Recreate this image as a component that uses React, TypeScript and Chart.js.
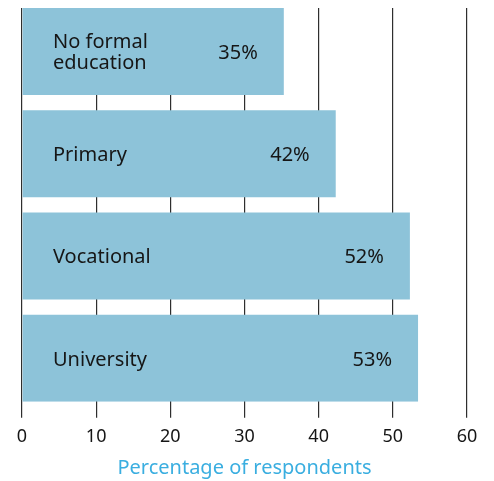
import React, { useEffect, useRef } from "react";
import { Chart, registerables } from "chart.js";

Chart.register(...registerables);

const categories: string[][] = [["No formal", "education"], ["Primary"], ["Vocational"], ["University"]];
const values: number[] = [35.3, 42.3, 52.3, 53.4];
const valueLabels: string[] = ["35%", "42%", "52%", "53%"];
const xTicks: number[] = [0, 10, 20, 30, 40, 50, 60];
const axisTitle = "Percentage of respondents";

const FONT = "'Noto Sans', 'Open Sans', sans-serif";

const labelPlugin = {
  id: "barLabels",
  afterDatasetsDraw(chart: any) {
    const ctx = chart.ctx;
    const meta = chart.getDatasetMeta(0);
    const area = chart.chartArea;
    ctx.save();
    ctx.fillStyle = "#161616";
    ctx.font = `20px ${FONT}`;
    ctx.textBaseline = "middle";
    meta.data.forEach((bar: any, i: number) => {
      const lines = categories[i];
      const lh = 21;
      const cy = bar.y + 1.5;
      ctx.textAlign = "left";
      lines.forEach((ln, j) => {
        const y = cy + (j - (lines.length - 1) / 2) * lh;
        ctx.fillText(ln, area.left + 31, y);
      });
      ctx.textAlign = "right";
      ctx.fillText(valueLabels[i], bar.x - 26, cy);
    });
    ctx.restore();
  },
};

export default function App() {
  const ref = useRef<HTMLCanvasElement | null>(null);
  useEffect(() => {
    document.body.style.margin = "0";
    const data = values.map((v, i) => ({ x: v, y: i }));
    const chart = new Chart(ref.current as HTMLCanvasElement, {
      type: "bar",
      data: {
        datasets: [
          {
            data: data as any,
            backgroundColor: "#8dc3d9",
            borderWidth: 0,
            barPercentage: 0.85,
            categoryPercentage: 1,
          },
        ],
      },
      options: {
        indexAxis: "y",
        animation: false,
        responsive: false,
        maintainAspectRatio: false,
        layout: { padding: { top: 8, left: 22, right: 27, bottom: 0 } },
        plugins: { legend: { display: false }, tooltip: { enabled: false } },
        scales: {
          y: {
            type: "linear",
            reverse: true,
            offset: false,
            bounds: "data",
            min: -0.425,
            max: categories.length - 1 + 0.425,
            afterBuildTicks: (axis: any) => {
              axis.ticks = categories.map((_, i) => ({ value: i }));
            },
            grid: { offset: false },
            display: false,
          },
          x: {
            type: "linear",
            min: xTicks[0],
            max: xTicks[xTicks.length - 1],
            afterBuildTicks: (axis: any) => {
              axis.ticks = xTicks.map((v) => ({ value: v }));
            },
            border: { display: false },
            grid: {
              color: "#2e2e2e",
              lineWidth: 1.2,
              drawTicks: true,
              tickLength: 16,
              tickColor: "#2e2e2e",
            },
            ticks: {
              color: "#161616",
              font: { family: FONT, size: 18 },
              padding: 8,
            },
            title: {
              display: true,
              text: axisTitle,
              color: "#3aaee0",
              font: { family: FONT, size: 20 },
              padding: { top: 0.8, bottom: 0.8 },
            },
          },
        },
      },
      plugins: [labelPlugin],
    });
    return () => chart.destroy();
  }, []);
  return (
    <div style={{ width: 494, height: 481 }}>
      <canvas ref={ref} width={494} height={481} style={{ display: "block" }} />
    </div>
  );
}
